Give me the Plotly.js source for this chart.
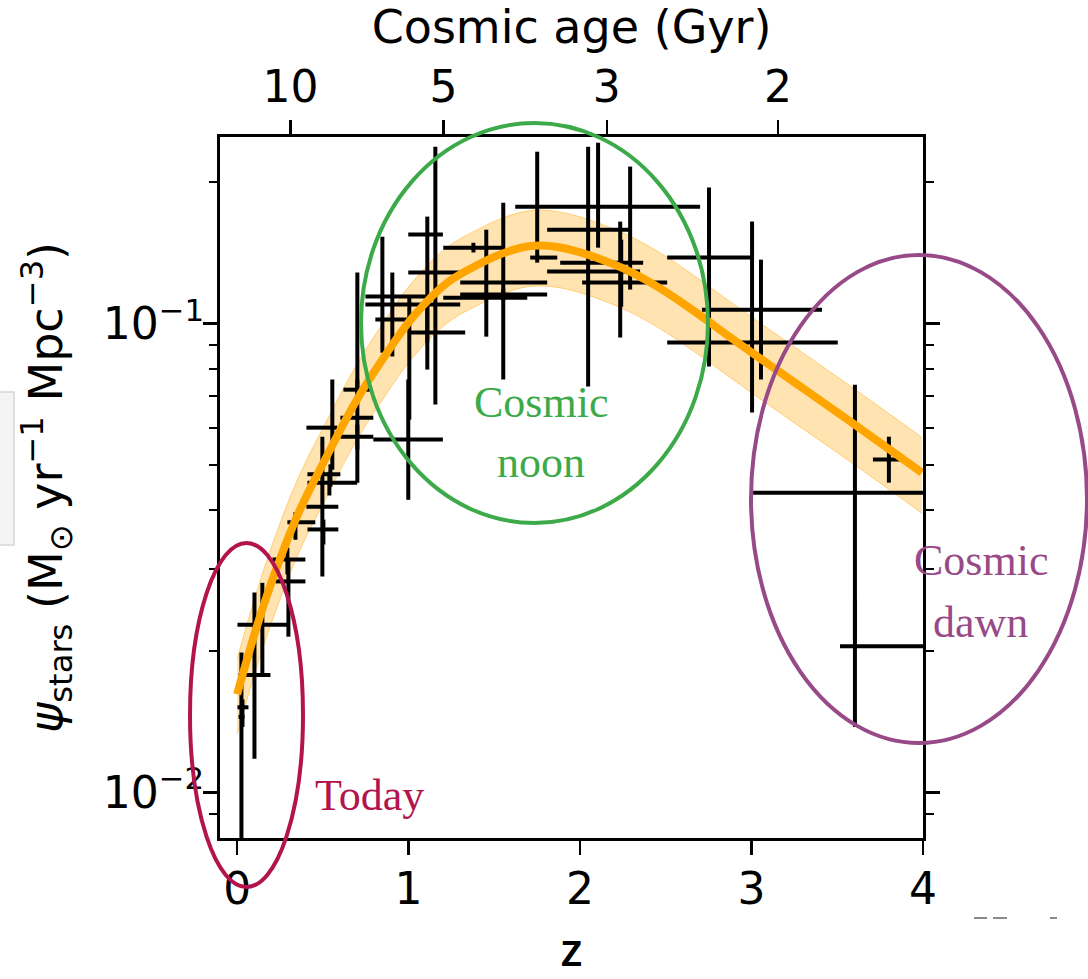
<!DOCTYPE html>
<html>
<head>
<meta charset="utf-8">
<script src="https://cdn.plot.ly/plotly-3.0.1.min.js"></script>
<style>
  html, body { margin: 0; padding: 0; background: #ffffff; }
  #chart { width: 1088px; height: 979px; }
</style>
</head>
<body>
<div id="chart"></div>
<script>
// Redshift of each measurement and the distance to the edges of its bin
const zMid   = [0.031, 0.025, 0.101, 0.147, 0.293, 0.299, 0.340, 0.497, 0.503, 0.555,
                0.538, 0.544, 0.701, 0.701, 0.701, 0.998, 0.847, 0.905, 1.004, 1.109,
                1.109, 1.156, 1.453, 1.552, 1.552, 1.378, 1.750, 2.105, 2.047, 2.292,
                2.234, 2.240, 2.752, 3.003, 3.055, 3.603, 3.603, 3.801];
const zErrLo = [0.029, 0.017, 0.093, 0.145, 0.087, 0.076, 0.047, 0.093, 0.093, 0.151,
                0.128, 0.134, 0.099, 0.099, 0.081, 0.204, 0.041, 0.157, 0.256, 0.111,
                0.111, 0.158, 0.251, 0.251, 0.251, 0.176, 0.041, 0.483, 0.239, 0.408,
                0.222, 0.432, 0.244, 0.495, 0.344, 0.594, 0.087, 0.093];
const zErrHi = [0.035, 0.018, 0.093, 0.152, 0.105, 0.099, 0.116, 0.093, 0.087, 0.029,
                0.162, 0.058, 0.093, 0.093, 0.076, 0.202, 0.151, 0.239, 0.297, 0.091,
                0.221, 0.145, 0.239, 0.256, 0.256, 0.174, 0.117, 0.595, 0.245, 0.076,
                0.274, 0.110, 0.247, 0.500, 0.356, 0.397, 0.397, 0.105];

// Star-formation rate density (Msun / yr / Mpc^3) with asymmetric uncertainties
const sfr      = [0.0152, 0.0145, 0.0178, 0.0228, 0.0314, 0.0282, 0.0377, 0.0407, 0.0364, 0.0600,
                  0.0458, 0.0477, 0.0630, 0.0574, 0.0723, 0.0566, 0.1020, 0.1142, 0.1098, 0.1548,
                  0.0957, 0.1285, 0.1136, 0.1223, 0.1153, 0.1452, 0.1383, 0.1776, 0.1586, 0.1349,
                  0.1223, 0.1291, 0.1383, 0.0911, 0.1071, 0.0436, 0.0205, 0.0513];
const sfrErrLo = [0.0014, 0.0076, 0.0060, 0.0051, 0.0022, 0.0067, 0.0031, 0.0118, 0.0026, 0.0112,
                  0.0028, 0.0028, 0.0172, 0.0035, 0.0034, 0.0145, 0.0153, 0.0291, 0.0474, 0.0637,
                  0.0159, 0.0613, 0.0198, 0.0463, 0.0033, 0.0034, 0.0034, 0.0324, 0.0852, 0.0167,
                  0.0289, 0.0204, 0.0573, 0.0265, 0.0311, 0.0224, 0.0067, 0.0055];
const sfrErrHi = [0.0006, 0.0054, 0.0089, 0.0052, 0.0019, 0.0032, 0.0019, 0.0167, 0.0018, 0.0160,
                  0.0025, 0.0024, 0.0655, 0.0035, 0.0037, 0.0194, 0.0512, 0.0143, 0.0044, 0.0143,
                  0.0130, 0.1099, 0.0450, 0.0588, 0.0035, 0.0035, 0.0943, 0.0655, 0.0798, 0.0813,
                  0.0427, 0.0219, 0.0567, 0.0739, 0.0298, 0.0305, 0.0053, 0.0061];

// Best-fit star-formation history and its uncertainty band
const fitZ     = [0.0, 0.11, 0.22, 0.357, 0.515, 0.689, 0.847, 1.027, 1.226, 1.418, 1.52, 1.62, 1.70,
                  1.78, 1.86, 1.96, 2.076, 2.274, 2.467, 2.659, 2.857, 3.05, 3.242, 3.574, 3.994];
const fitSfr   = [0.0162, 0.0223, 0.0294, 0.0394, 0.0515, 0.0679, 0.0838, 0.1035, 0.1223, 0.1343, 0.1398, 0.1440, 0.1462,
                  0.1467, 0.1458, 0.1433, 0.1390, 0.1300, 0.1189, 0.1067, 0.0946, 0.0843, 0.0753, 0.0619, 0.0481];
const fitUpper = [0.0193, 0.0265, 0.0350, 0.0469, 0.0613, 0.0808, 0.0997, 0.1232, 0.1455, 0.1598, 0.1664, 0.1714, 0.1740,
                  0.1746, 0.1735, 0.1705, 0.1654, 0.1547, 0.1415, 0.1270, 0.1126, 0.1003, 0.0896, 0.0737, 0.0572];
const fitLower = [0.0133, 0.0183, 0.0241, 0.0323, 0.0422, 0.0557, 0.0687, 0.0849, 0.1003, 0.1101, 0.1146, 0.1181, 0.1199,
                  0.1203, 0.1196, 0.1175, 0.1140, 0.1066, 0.0975, 0.0875, 0.0776, 0.0691, 0.0617, 0.0508, 0.0394];

// Cosmic age ticks (Gyr) along the top axis and the redshift where each one sits
const ageLabels = ['10', '5', '3', '2'];
const ageZ      = [0.311, 1.204, 2.156, 3.155];

// Labels on the left axis
const sfrTickVals  = [0.01, 0.1];
const sfrTickText  = ['10<sup>\u22122</sup>', '10<sup>\u22121</sup>'];
const sfrMinorVals = [0.009, 0.02, 0.03, 0.04, 0.05, 0.06, 0.07, 0.08, 0.09, 0.2];
const zTickVals    = [0, 1, 2, 3, 4];

// ---- page geometry (pixels) ----
const W = 1088, H = 979;
const M = { l: 220, r: 165, t: 137, b: 141 };
const plotW = W - M.l - M.r, plotH = H - M.t - M.b;
const px = x => (x - M.l) / plotW;            // page x -> paper x
const py = y => (H - M.b - y) / plotH;        // page y -> paper y

const SANS = 'DejaVu Sans';
const SERIF = 'Liberation Serif';
const ORANGE = '#ffa500';
const NOON = '#3caa48', TODAY = '#b3144e', DAWN = '#974a87';

const traces = [
  { x: fitZ, y: fitUpper, mode: 'lines', line: { color: 'rgba(255,165,0,0.45)', width: 1, shape: 'spline', smoothing: 1.1 },
    hoverinfo: 'skip', showlegend: false },
  { x: fitZ, y: fitLower, mode: 'lines', line: { color: 'rgba(255,165,0,0.45)', width: 1, shape: 'spline', smoothing: 1.1 },
    fill: 'tonexty', fillcolor: 'rgba(255,165,0,0.30)', hoverinfo: 'skip', showlegend: false },
  { x: zMid, y: sfr, mode: 'markers', marker: { size: 2, color: 'black' },
    error_x: { type: 'data', symmetric: false, array: zErrHi, arrayminus: zErrLo,
               color: 'black', thickness: 4, width: 0 },
    error_y: { type: 'data', symmetric: false, array: sfrErrHi, arrayminus: sfrErrLo,
               color: 'black', thickness: 4, width: 0 },
    showlegend: false },
  { x: fitZ, y: fitSfr, mode: 'lines', line: { color: ORANGE, width: 8, shape: 'spline', smoothing: 1.1 },
    showlegend: false },
  // carrier for the cosmic-age axis along the top
  { x: [0, 4], y: [0.1, 0.1], xaxis: 'x2', mode: 'markers', marker: { opacity: 0 },
    hoverinfo: 'skip', showlegend: false }
];

const ellipse = (x0, x1, y0, y1, color) => ({
  type: 'circle', xref: 'paper', yref: 'paper', layer: 'above',
  x0: px(x0), x1: px(x1), y0: py(y1), y1: py(y0),
  line: { color: color, width: 4 }, fillcolor: 'rgba(0,0,0,0)'
});

const label = (text, x, y, color) => ({
  text: text, xref: 'paper', yref: 'paper', x: px(x), y: py(y),
  xanchor: 'center', yanchor: 'middle', showarrow: false,
  font: { family: SERIF, size: 44, color: color }
});

// faint window-edge marks around the figure
const edgeMarks = [
  { type: 'rect', xref: 'paper', yref: 'paper', layer: 'below',
    x0: px(-2), x1: px(14), y0: py(545), y1: py(392),
    line: { color: '#d6d6d6', width: 1.5 }, fillcolor: '#f4f4f4' },
  { type: 'line', xref: 'paper', yref: 'paper', x0: px(974), x1: px(987), y0: py(918), y1: py(918),
    line: { color: '#8a8a8a', width: 2 } },
  { type: 'line', xref: 'paper', yref: 'paper', x0: px(993), x1: px(1007), y0: py(918), y1: py(918),
    line: { color: '#8a8a8a', width: 2 } },
  { type: 'line', xref: 'paper', yref: 'paper', x0: px(1050), x1: px(1057), y0: py(918), y1: py(918),
    line: { color: '#8a8a8a', width: 2 } }
];

const layout = {
  width: W, height: H, autosize: false,
  margin: M,
  paper_bgcolor: '#ffffff', plot_bgcolor: '#ffffff',
  font: { family: SANS, size: 44, color: '#000000' },
  showlegend: false,
  xaxis: {
    range: [-0.1, 4], tickvals: zTickVals, ticktext: zTickVals.map(String),
    ticks: 'outside', ticklen: 14, tickwidth: 2.5, tickcolor: '#000', ticklabelstandoff: -4,
    showline: true, linewidth: 3, linecolor: '#000', mirror: true,
    showgrid: false, zeroline: false,
    tickfont: { family: SANS, size: 44 },
    title: { text: 'z', font: { family: 'Open Sans', size: 46, weight: 600 }, standoff: 37 }
  },
  xaxis2: {
    overlaying: 'x', side: 'top', range: [-0.1, 4],
    tickvals: ageZ, ticktext: ageLabels,
    ticks: 'outside', ticklen: 14, tickwidth: 2.5, tickcolor: '#000',
    showline: true, linewidth: 3, linecolor: '#000',
    showgrid: false, zeroline: false,
    tickfont: { family: SANS, size: 44 },
    title: { text: 'Cosmic age (Gyr)', font: { family: SANS, size: 46 }, standoff: 6 }
  },
  yaxis: {
    type: 'log', range: [Math.log10(0.008), Math.log10(0.25)],
    tickvals: sfrTickVals, ticktext: sfrTickText,
    ticks: 'outside', ticklen: 14, tickwidth: 2.5, tickcolor: '#000', ticklabelstandoff: -10,
    minor: { tickvals: sfrMinorVals, ticks: 'outside', ticklen: 8, tickwidth: 2, tickcolor: '#000', showgrid: false },
    showline: true, linewidth: 3, linecolor: '#000', mirror: 'ticks',
    showgrid: false, zeroline: false,
    tickfont: { family: SANS, size: 44 },
    title: { text: '<i>\u03c8</i><sub>stars</sub> (M<sub>\u2299</sub> yr<sup>\u22121</sup> Mpc<sup>\u22123</sup>)',
             font: { family: SANS, size: 46 }, standoff: 26 }
  },
  shapes: edgeMarks.concat([
    ellipse(190, 303, 543, 887, TODAY),
    ellipse(361, 708, 123, 523, NOON),
    ellipse(751, 1087, 255, 743, DAWN)
  ]),
  annotations: [
    label('Cosmic', 541, 402, NOON),
    label('noon', 541, 462, NOON),
    label('Today', 369, 795, TODAY),
    label('Cosmic', 981, 560, DAWN),
    label('dawn', 980, 622, DAWN)
  ]
};

Plotly.newPlot('chart', traces, layout, { displayModeBar: false, staticPlot: true });
</script>
</body>
</html>
